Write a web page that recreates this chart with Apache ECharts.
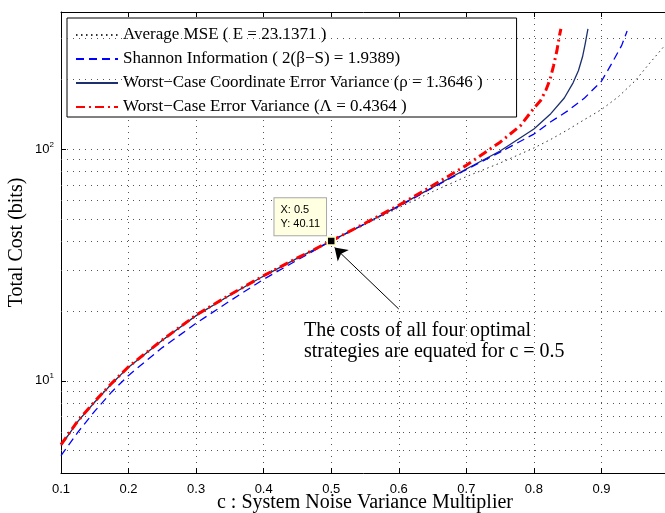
<!DOCTYPE html>
<html>
<head>
<meta charset="utf-8">
<script src="https://cdn.jsdelivr.net/npm/echarts@6/dist/echarts.min.js"></script>
<style>
  html, body { margin: 0; padding: 0; background: #fff; }
  #chart { width: 665px; height: 513px; }
</style>
</head>
<body>
<div id="chart"></div>
<script>
// values (c, total cost in bits)
const mseC = [0.1, 0.125, 0.15, 0.175, 0.2, 0.25, 0.3, 0.35, 0.4, 0.45, 0.5, 0.55, 0.6, 0.65, 0.7, 0.75, 0.8, 0.825, 0.85, 0.875, 0.9, 0.925, 0.95, 0.97, 0.993];
const mseCost = [5.28, 6.7, 8.12, 9.72, 11.47, 14.97, 19.1, 23.4, 28.3, 33.7, 40.11, 47.2, 55.8, 65.5, 76, 87, 101, 110, 121, 134, 148, 168, 197, 232, 278];

const shannonC = [0.1, 0.125, 0.15, 0.175, 0.2, 0.25, 0.3, 0.35, 0.4, 0.45, 0.5, 0.55, 0.6, 0.65, 0.7, 0.75, 0.8, 0.825, 0.85, 0.875, 0.9, 0.915, 0.93, 0.938];
const shannonCost = [4.75, 6.0, 7.4, 8.95, 10.55, 13.9, 17.7, 22.1, 27.4, 33.2, 40.11, 47.5, 56.5, 68, 81.5, 97, 116, 131, 146, 166, 196, 233, 280, 323];

const coordC = [0.1, 0.125, 0.15, 0.175, 0.2, 0.25, 0.3, 0.35, 0.4, 0.45, 0.5, 0.55, 0.6, 0.65, 0.7, 0.75, 0.8, 0.825, 0.845, 0.858, 0.866, 0.872, 0.876, 0.88];
const coordCost = [5.25, 6.68, 8.1, 9.7, 11.45, 14.95, 19.1, 23.4, 28.3, 33.8, 40.11, 47.6, 56.8, 68.3, 82, 98, 122, 142, 166, 193, 218, 250, 285, 330];

const worstC = [0.1, 0.125, 0.15, 0.175, 0.2, 0.25, 0.3, 0.35, 0.4, 0.45, 0.5, 0.55, 0.6, 0.65, 0.7, 0.75, 0.78, 0.8, 0.81, 0.818, 0.824, 0.829, 0.834, 0.838, 0.84];
const worstCost = [5.3, 6.72, 8.15, 9.75, 11.5, 15.0, 19.2, 23.5, 28.4, 33.9, 40.11, 47.8, 57.2, 69.5, 85, 107, 126, 150, 162, 180, 200, 228, 265, 310, 330];

const seriesNames = [
  'Average MSE ( E = 23.1371 )',
  'Shannon Information ( 2(β−S) = 1.9389)',
  'Worst−Case Coordinate Error Variance (ρ = 1.3646 )',
  'Worst−Case Error Variance (Λ = 0.4364 )'
];

const minorGridValues = [5, 6, 7, 8, 9, 20, 30, 40, 50, 60, 70, 80, 90, 200, 300];
const tipPoint = [0.5, 40.11];
const arrowFrom = [0.6, 20.4];
const arrowTo = [0.505, 37.6];
const noteLines = ['The costs of all four optimal', 'strategies are equated for c = 0.5'];

const serif = 'Liberation Serif';
const sans = 'Liberation Sans';
const gridDots = { color: '#555', width: 1, type: [1, 5] };

const zip = (xs, ys) => xs.map((x, i) => [x, ys[i]]);

const chart = echarts.init(document.getElementById('chart'));

const option = {
  animation: false,
  backgroundColor: '#fff',
  grid: { left: 61, top: 12, width: 608, height: 461, containLabel: false, outerBoundsMode: 'none' },
  legend: {
    data: seriesNames,
    orient: 'vertical',
    left: 67,
    top: 18,
    itemWidth: 42,
    itemHeight: 18,
    itemGap: 6,
    padding: [8, 34, 1, 8],
    backgroundColor: '#fff',
    borderColor: '#000',
    borderWidth: 1,
    itemStyle: { color: 'transparent', borderColor: 'transparent', borderWidth: 0, opacity: 0 },
    textStyle: { fontFamily: serif, fontSize: 17, lineHeight: 18, color: '#000' }
  },
  xAxis: [
    {
      type: 'value',
      min: 0.1,
      max: 1.0,
      interval: 0.1,
      name: 'c : System Noise Variance Multiplier',
      nameLocation: 'middle',
      nameGap: 20,
      nameMoveOverlap: false,
      nameTextStyle: { fontFamily: serif, fontSize: 20, color: '#000' },
      axisLine: { onZero: false, lineStyle: { color: '#000', width: 1 } },
      axisTick: { inside: true, length: 5, lineStyle: { color: '#000' } },
      axisLabel: {
        margin: 10,
        fontFamily: sans,
        fontSize: 13,
        color: '#000',
        formatter: (v) => (v > 0.95 ? '' : v.toFixed(1))
      },
      splitLine: { show: true, lineStyle: gridDots }
    },
    {
      type: 'value',
      position: 'top',
      min: 0.1,
      max: 1.0,
      interval: 0.1,
      axisLine: { onZero: false, lineStyle: { color: '#000', width: 1 } },
      axisTick: { inside: true, length: 5, lineStyle: { color: '#000' } },
      axisLabel: { show: false },
      splitLine: { show: false }
    }
  ],
  yAxis: {
    type: 'log',
    logBase: 10,
    min: 4,
    max: 390,
    name: 'Total Cost (bits)',
    nameLocation: 'middle',
    nameGap: 34,
    nameMoveOverlap: false,
    nameTextStyle: { fontFamily: serif, fontSize: 20, color: '#000' },
    axisLine: { lineStyle: { color: '#000', width: 1 } },
    axisTick: { inside: true, length: 5, lineStyle: { color: '#000' } },
    axisLabel: {
      margin: 7,
      color: '#000',
      formatter: (v) => {
        const e = Math.round(Math.log10(v));
        if (Math.abs(v - Math.pow(10, e)) > 1e-6 || e < 1) return '';
        return `{b|10}{s|${e}}`;
      },
      rich: {
        b: { fontFamily: sans, fontSize: 13, color: '#000' },
        s: { fontFamily: sans, fontSize: 8, color: '#000', padding: [0, 0, 9, 0] }
      }
    },
    splitLine: { show: true, lineStyle: gridDots }
  },
  graphic: [
    {
      type: 'text',
      left: 304,
      top: 320,
      silent: true,
      style: {
        text: noteLines.join('\n'),
        font: `20px "${serif}"`,
        lineHeight: 21,
        fill: '#000'
      }
    }
  ],
  series: [
    {
      name: 'minor-grid',
      type: 'line',
      data: [],
      silent: true,
      z: 1,
      markLine: {
        silent: true,
        symbol: ['none', 'none'],
        label: { show: false },
        lineStyle: gridDots,
        emphasis: { disabled: true },
        data: minorGridValues.map((v) => ({ yAxis: v }))
      }
    },
    {
      name: seriesNames[2],
      type: 'line',
      data: zip(coordC, coordCost),
      symbol: 'none',
      color: '#1c2f6e',
      lineStyle: { color: '#1c2f6e', width: 1.3, type: 'solid' }
    },
    {
      name: seriesNames[1],
      type: 'line',
      data: zip(shannonC, shannonCost),
      symbol: 'none',
      color: '#0000ff',
      lineStyle: { color: '#0000ff', width: 1.3, type: [8, 5] }
    },
    {
      name: seriesNames[0],
      type: 'line',
      data: zip(mseC, mseCost),
      symbol: 'none',
      color: '#333',
      lineStyle: { color: '#333', width: 1, type: [1.5, 3.5] }
    },
    {
      name: seriesNames[3],
      type: 'line',
      data: zip(worstC, worstCost),
      symbol: 'none',
      color: '#ff0000',
      lineStyle: { color: '#ff0000', width: 3, type: [9, 4, 2, 4] },
      markPoint: {
        silent: true,
        symbol: 'rect',
        symbolSize: 8,
        itemStyle: { color: '#000', borderColor: '#ffffc8', borderWidth: 1.5 },
        label: {
          show: true,
          position: [-52, -38],
          formatter: `X: ${tipPoint[0]}\nY: ${tipPoint[1]}`,
          fontFamily: sans,
          fontSize: 11,
          lineHeight: 14,
          color: '#000',
          align: 'left',
          verticalAlign: 'top',
          backgroundColor: '#ffffe1',
          borderColor: '#a8a8a8',
          borderWidth: 1,
          padding: [5, 6, 4, 6]
        },
        data: [{ coord: tipPoint }]
      },
      markLine: {
        silent: true,
        symbol: ['none', 'arrow'],
        symbolSize: [12, 12],
        label: { show: false },
        lineStyle: { color: '#000', width: 1, type: 'solid' },
        emphasis: { disabled: true },
        data: [[{ coord: arrowFrom }, { coord: arrowTo }]]
      }
    }
  ]
};

chart.setOption(option);
</script>
</body>
</html>
